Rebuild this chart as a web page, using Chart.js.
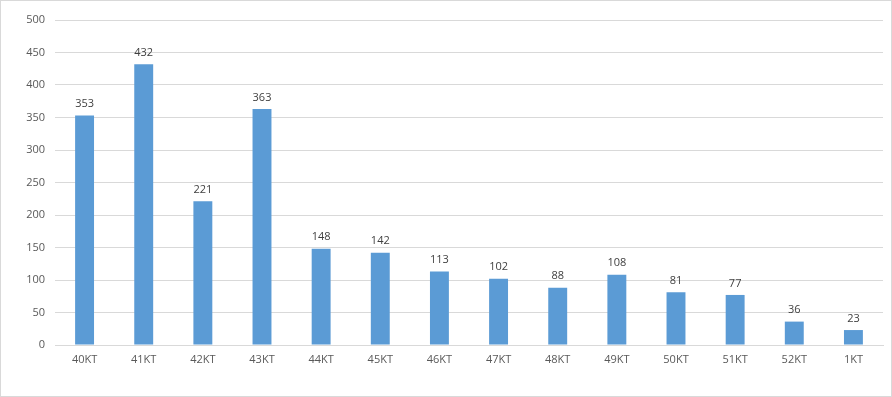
<!DOCTYPE html>
<html>
<head>
<meta charset="utf-8">
<script src="https://cdn.jsdelivr.net/npm/chart.js@4"></script>
<style>
  html, body { margin: 0; padding: 0; background: #fff; }
  #wrap { width: 892px; height: 397px; box-sizing: border-box; border: 1px solid #d9d9d9; }
  canvas { display: block; }
</style>
</head>
<body>
<div id="wrap"><canvas id="myChart" width="890" height="395"></canvas></div>
<script>
let categories = ["40KT", "41KT", "42KT", "43KT", "44KT", "45KT", "46KT", "47KT", "48KT", "49KT", "50KT", "51KT", "52KT", "1KT"];
let counts = [353, 432, 221, 363, 148, 142, 113, 102, 88, 108, 81, 77, 36, 23];
let barColor = "#5B9BD5";
let gridColor = "#d9d9d9";
let textColor = "#595959";

// draw value labels above each bar
let valueLabels = {
  id: "valueLabels",
  afterDatasetsDraw(chart) {
    let ctx = chart.ctx;
    ctx.save();
    ctx.font = "11px 'Open Sans', 'Liberation Sans', sans-serif";
    ctx.fillStyle = "#404040";
    ctx.textAlign = "center";
    ctx.textBaseline = "bottom";
    chart.getDatasetMeta(0).data.forEach((bar, i) => {
      ctx.fillText(counts[i], bar.x, bar.y - 6);
    });
    ctx.restore();
  }
};

new Chart("myChart", {
  type: "bar",
  data: {
    labels: categories,
    datasets: [{
      data: counts,
      backgroundColor: barColor,
      barPercentage: 0.32,
      categoryPercentage: 1
    }]
  },
  options: {
    responsive: false,
    animation: false,
    layout: { padding: { top: 19, right: 8, left: 0, bottom: 0 } },
    plugins: {
      legend: { display: false },
      tooltip: { enabled: false }
    },
    scales: {
      x: {
        grid: { display: false, drawTicks: false },
        border: { display: true, color: gridColor },
        ticks: {
          color: textColor,
          padding: 8,
          font: { family: "'Open Sans', 'Liberation Sans', sans-serif", size: 11 }
        },
        afterFit(scale) { scale.height = 51; }
      },
      y: {
        min: 0,
        max: 500,
        grid: { color: gridColor, drawTicks: false },
        border: { display: false },
        ticks: {
          stepSize: 50,
          color: textColor,
          padding: 10,
          font: { family: "'Open Sans', 'Liberation Sans', sans-serif", size: 11 }
        },
        afterFit(scale) { scale.width = 54; }
      }
    }
  },
  plugins: [valueLabels]
});
</script>
</body>
</html>
